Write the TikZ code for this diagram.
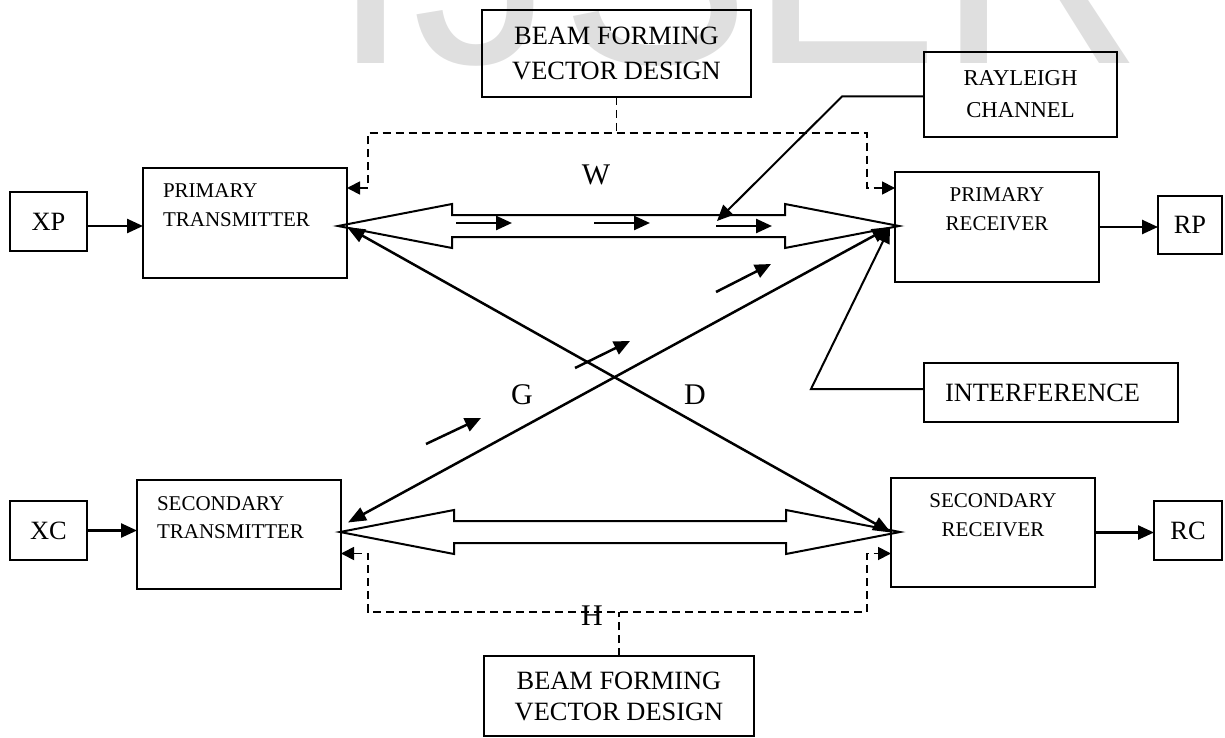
\documentclass[tikz,border=0pt]{standalone}
\usepackage{fontspec}
\setmainfont{Liberation Serif}
\newfontfamily\wzfont{Liberation Sans}
\usepackage{tikz}
\usetikzlibrary{arrows.meta,calc,positioning}

\begin{document}
\begin{tikzpicture}[x=1pt,y=-1pt,
  kasten/.style={draw,line width=2pt,inner sep=0pt,outer sep=0pt,anchor=north west},
  schrift/.style={inner sep=0pt,outer sep=0pt},
  gross/.style={font=\fontsize{26.4}{35}\selectfont,align=center},
  mittel/.style={font=\fontsize{22.7}{32}\selectfont,align=center},
  klein/.style={font=\fontsize{21}{28.5}\selectfont},
  buchst/.style={font=\fontsize{30}{30}\selectfont,inner sep=0pt},
  wz/.style={text=gray!25,font=\wzfont\fontsize{285}{285}\selectfont,inner sep=0pt,anchor=base west},
  pfeil/.style={line width=2.5pt,-{Triangle[length=16pt,width=14pt]}},
  dg/.style={line width=2.5pt,{Triangle[length=18pt,width=14pt]}-{Triangle[length=18pt,width=14pt]}},
  strichlein/.style={line width=1.8pt,dash pattern=on 8pt off 5pt},
  strich/.style={strichlein,{Triangle[length=13pt,width=13pt]}-{Triangle[length=13pt,width=13pt]}}
]
\useasboundingbox (0,0) rectangle (1225,738);
%Wasserzeichen oben, nur der untere Teil ist zu sehen
\begin{scope}
  \clip (0,0) rectangle (1225,738);
  \foreach \bu/\xx in {I/331,J/412,S/560,E/749,R/937}
    \node[wz] (wz\bu) at (\xx,64) {\bu};
\end{scope}
%Kaesten
\node[kasten,minimum width=269pt,minimum height=87pt,gross] (bfo) at (482,10) {BEAM FORMING\\VECTOR DESIGN};
\node[kasten,minimum width=193pt,minimum height=85pt,mittel] (ray) at (924,52) {RAYLEIGH\\CHANNEL};
\node[kasten,minimum width=77pt,minimum height=59pt,gross] (xp) at (10,192) {XP};
\node[kasten,minimum width=204pt,minimum height=110pt] (ptx) at (143,168) {};
\node[klein,schrift,align=left,below right=16pt and 20pt of ptx.north west] (ptxt) {PRIMARY\\TRANSMITTER};
\node[kasten,minimum width=204pt,minimum height=110pt] (prx) at (895,172) {};
\node[klein,schrift,align=center,below=16pt of prx.north] (prxt) {PRIMARY\\RECEIVER};
\node[kasten,minimum width=64pt,minimum height=58pt,gross] (rp) at (1158,196) {RP};
\node[kasten,minimum width=254pt,minimum height=59pt] (intf) at (924,363) {};
\node[gross,schrift,right=21pt of intf.west] (intft) {INTERFERENCE};
\node[kasten,minimum width=77pt,minimum height=59pt,gross] (xc) at (10,501) {XC};
\node[kasten,minimum width=204pt,minimum height=109pt] (stx) at (137,480) {};
\node[klein,schrift,align=left,below right=16.5pt and 20pt of stx.north west] (stxt) {SECONDARY\\TRANSMITTER};
\node[kasten,minimum width=204pt,minimum height=109pt] (srx) at (891,478) {};
\node[klein,schrift,align=center,below=16pt of srx.north] (srxt) {SECONDARY\\RECEIVER};
\node[kasten,minimum width=68pt,minimum height=59pt,gross] (rc) at (1154,501) {RC};
\node[kasten,minimum width=270pt,minimum height=80pt,gross,font=\fontsize{26.4}{31}\selectfont] (bfu) at (484,656) {BEAM FORMING\\VECTOR DESIGN};
%Buchstaben
\node[buchst] (w) at (596,175) {W};
\node[buchst] (g) at (522,395) {G};
\node[buchst] (d) at (695,395) {D};
\node[buchst] (h) at (592,616) {H};
%hohle Doppelpfeile zwischen Sender und Empfaenger
\foreach \y/\l/\r in {226/338/899,532/340/900}{
  \draw[line width=2pt] (\l,\y) -- (\l+114,\y-22) -- (\l+114,\y-11) -- (\r-114,\y-11) -- (\r-114,\y-22) -- (\r,\y) -- (\r-114,\y+22) -- (\r-114,\y+11) -- (\l+114,\y+11) -- (\l+114,\y+22) -- cycle;
}
%kleine Pfeile
\foreach \a/\b/\y in {456/512/223,594/650/223,716/772/226}
  \draw[pfeil] (\a,\y) -- (\b,\y);
\foreach \a/\b/\c/\d in {426/444/481/418,575/368/630/341,716/292/771/264}
  \draw[pfeil] (\a,\b) -- (\c,\d);
%gestrichelte Leitungen
\coordinate (wl) at (368,133);
\coordinate (wr) at (867,133);
\draw[strichlein] (bfo.south) -- (bfo.south |- wl);
\draw[strich] ([yshift=35pt]ptx.east) -| (wl) -- (wr) |- ([yshift=39pt]prx.west);
\coordinate (hl) at (368,612);
\coordinate (hr) at (867,612);
\draw[strichlein] (bfu.north) -- (bfu.north |- hl);
\draw[strich] ([yshift=-19pt]stx.east) -| (hl) -- (hr) |- ([yshift=-21pt]srx.west);
%Kanaele G und D
\coordinate (prin) at ([xshift=-5pt]prx.west);
\coordinate (rtip) at (717,221);
\draw[dg] ([yshift=-4pt]ptx.east) -- (srx.west);
\draw[dg] ([xshift=7pt,yshift=12pt]stx.east) -- (prin);
\draw[pfeil,line width=2pt] ([yshift=-2pt]ray.west) -- ++(-82,0) -- (rtip);
\draw[pfeil,line width=2pt] ([yshift=3.5pt]intf.west) -- ++(-113,0) -- (prin);
%Ein- und Ausgaenge
\draw[pfeil] ([yshift=-4.5pt]xp.east) -- ([yshift=-4.5pt]xp.east -| ptx.west);
\draw[pfeil] (prx.east) -- (prx.east -| rp.west);
\draw[pfeil] (xc.east) -- (xc.east -| stx.west);
\draw[pfeil] (srx.east) -- (srx.east -| rc.west);
\end{tikzpicture}
\end{document}
